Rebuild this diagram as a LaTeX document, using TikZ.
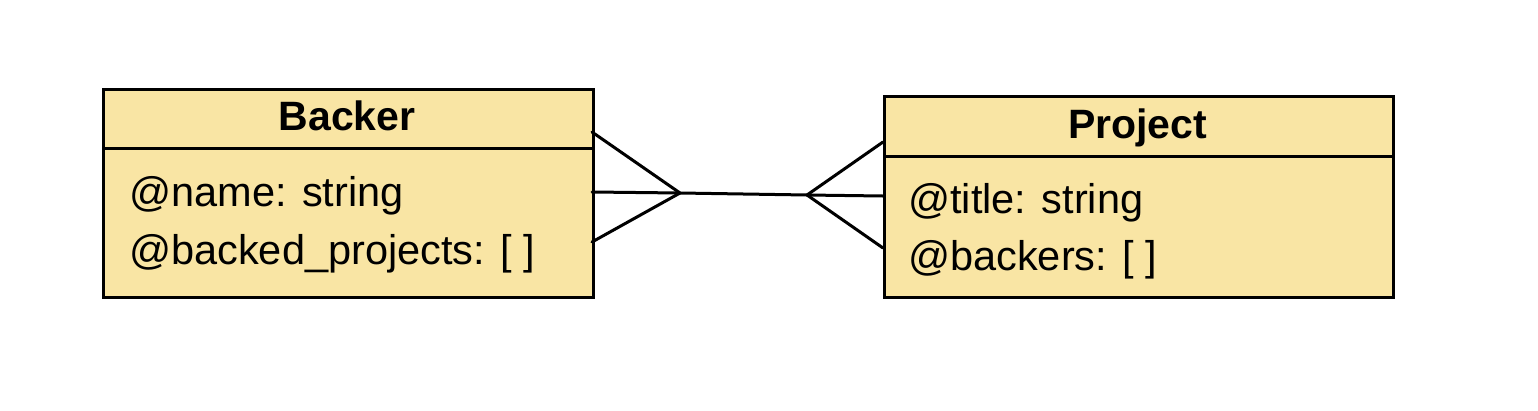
\documentclass[tikz,border=0pt]{standalone}
\usepackage{fontspec}
\setmainfont{Liberation Sans}
\definecolor{boxfill}{RGB}{249,229,164}
\begin{document}
\begin{tikzpicture}[x=1pt,y=-1pt,
  entity/.style={draw=black,line width=3pt,fill=boxfill,rectangle,anchor=north west,inner sep=0pt},
  ttl/.style={font=\fontsize{41}{49}\selectfont\bfseries,anchor=base,inner sep=0pt},
  attr/.style={font=\fontsize{41.5}{49}\selectfont,anchor=base west,inner sep=0pt},
  rel/.style={line width=3pt,line cap=round,line join=round}]
\useasboundingbox (0,0) rectangle (1538,410);
% Backer
\node[entity,minimum width=490pt,minimum height=208pt] (backer) at (102,88) {};
\draw[line width=3pt] (102,148) -- (592,148);
\node[ttl] (backerttl) at (347,130.5) {Backer};
\node[attr] (bname) at (129,206.5) {@name: string};
\node[attr] (bproj) at (129,264) {@backed\_projects: [ ]};
% Project
\node[entity,minimum width=509pt,minimum height=201pt] (project) at (883,95) {};
\draw[line width=3pt] (883,156) -- (1392,156);
\node[ttl] (projttl) at (1137.5,138) {Project};
\node[attr] (ptitle) at (908,213) {@title: string};
\node[attr] (pback) at (908,270.5) {@backers: [ ]};
% relation
\coordinate (b1) at (592,132);
\coordinate (b2) at (592,192);
\coordinate (b3) at (592,242);
\coordinate (la) at (680,193);
\coordinate (ra) at (807,195);
\coordinate (p1) at (883,142);
\coordinate (p2) at (883,196);
\coordinate (p3) at (883,248);
\draw[rel] (b1) -- (la) -- (b3);
\draw[rel] (b2) -- (la) -- (ra) -- (p2);
\draw[rel] (p1) -- (ra) -- (p3);
\end{tikzpicture}
\end{document}
